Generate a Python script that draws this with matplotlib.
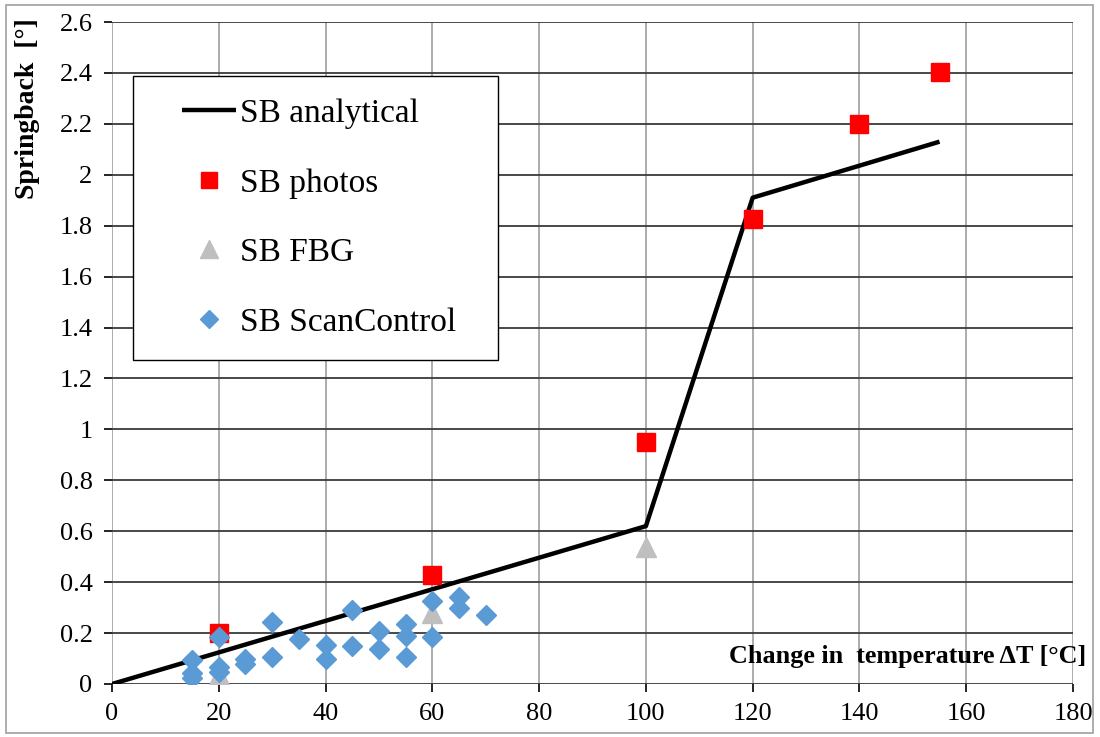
import matplotlib
matplotlib.use("Agg")
import matplotlib.pyplot as plt
from matplotlib.patches import Rectangle
from matplotlib.lines import Line2D
from matplotlib.legend_handler import HandlerLine2D

# Data
analytical_x = [0, 100, 120, 155]
analytical_y = [0, 0.62, 1.91, 2.13]

photos_x = [20, 60, 100, 120, 140, 155]
photos_y = [0.20, 0.43, 0.95, 1.825, 2.20, 2.405]

fbg_x = [20, 60, 100]
fbg_y = [0.035, 0.28, 0.54]

scan_x = [15, 15, 15, 20, 20, 20, 25, 25, 30, 30, 35, 40, 40, 45, 45,
          50, 50, 55, 55, 55, 60, 60, 65, 65, 70]
scan_y = [0.095, 0.042, 0.022, 0.186, 0.068, 0.048, 0.10, 0.078, 0.245, 0.105,
          0.175, 0.155, 0.098, 0.29, 0.15, 0.21, 0.137, 0.235, 0.19, 0.105,
          0.327, 0.186, 0.343, 0.297, 0.27]

xticks = list(range(0, 181, 20))
yticks = [round(0.2 * i, 1) for i in range(14)]
ytick_labels = ["0", "0.2", "0.4", "0.6", "0.8", "1", "1.2", "1.4", "1.6", "1.8",
                "2", "2.2", "2.4", "2.6"]

serif = ["Liberation Serif", "DejaVu Serif"]
plt.rcParams["font.family"] = serif

fig = plt.figure(figsize=(11, 7.37), dpi=100)
ax = fig.add_axes([112 / 1100, 1 - 684 / 737, (1073 - 112) / 1100, (684 - 22) / 737])

ax.set_xlim(0, 180)
ax.set_ylim(0, 2.6)
ax.set_xticks(xticks)
ax.set_yticks(yticks)
ax.set_yticklabels(ytick_labels)

# Grid
for y in yticks:
    ax.axhline(y, color="#3a3a3a", lw=1.3, zorder=1)
for x in xticks:
    ax.axvline(x, color="#a6a6a6", lw=1.3, zorder=0.9)
for s in ax.spines.values():
    s.set_visible(False)

ax.tick_params(axis="both", direction="out", length=6, width=1.2,
               labelsize=19, labelcolor="black")
ax.tick_params(axis="x", pad=8)
ax.tick_params(axis="y", pad=8)
for t in ax.get_xticklines() + ax.get_yticklines():
    t.set_color("#a6a6a6")

l1, = ax.plot(analytical_x, analytical_y, color="black", lw=3.2, zorder=3,
              label="SB analytical", solid_capstyle="butt")
l2, = ax.plot(photos_x, photos_y, ls="none", marker="s", ms=13, color="#ff0000",
              mec="#ff0000", zorder=4, label="SB photos")
l3, = ax.plot(fbg_x, fbg_y, ls="none", marker="^", ms=14, color="#bfbfbf",
              mec="#bfbfbf", zorder=4, label="SB FBG")
l4, = ax.plot(scan_x, scan_y, ls="none", marker="D", ms=10, color="#5b9bd5",
              mec="#5b9bd5", zorder=5, label="SB ScanControl")

lx0 = (133 - 112) / 961
lw_ = (498 - 133) / 961
ltop = (684 - 76) / 662
leg = ax.legend(handles=[l1, l2, l3, l4], loc="upper left",
                bbox_to_anchor=(lx0, ltop - 0.3, lw_, 0.3), mode="expand",
                fontsize=24, frameon=True, fancybox=False, edgecolor="black",
                framealpha=1, borderpad=0.68, labelspacing=1.17, handlelength=2.4,
                handletextpad=0.12, borderaxespad=0, markerscale=0.9,
                handler_map={Line2D: HandlerLine2D(xpad=0.8)})
leg.get_frame().set_linewidth(1.0)
leg.set_zorder(10)

fig.text(1086 / 1100, 1 - 657 / 737, "Change in  temperature ΔT [°C]",
         ha="right", va="center", fontsize=18.8, fontweight="bold", zorder=11)

fig.text(28 / 1100, 1 - 18 / 737, "Springback  [°]", rotation=90, ha="center",
         va="top", fontsize=20, fontweight="bold")

fig.patches.append(Rectangle((6 / 1100, 4 / 737), 1 - 13 / 1100, 1 - 9 / 737,
                             transform=fig.transFigure, fill=False,
                             edgecolor="#a0a0a0", lw=1.2))

fig.savefig("out.png", dpi=100)
